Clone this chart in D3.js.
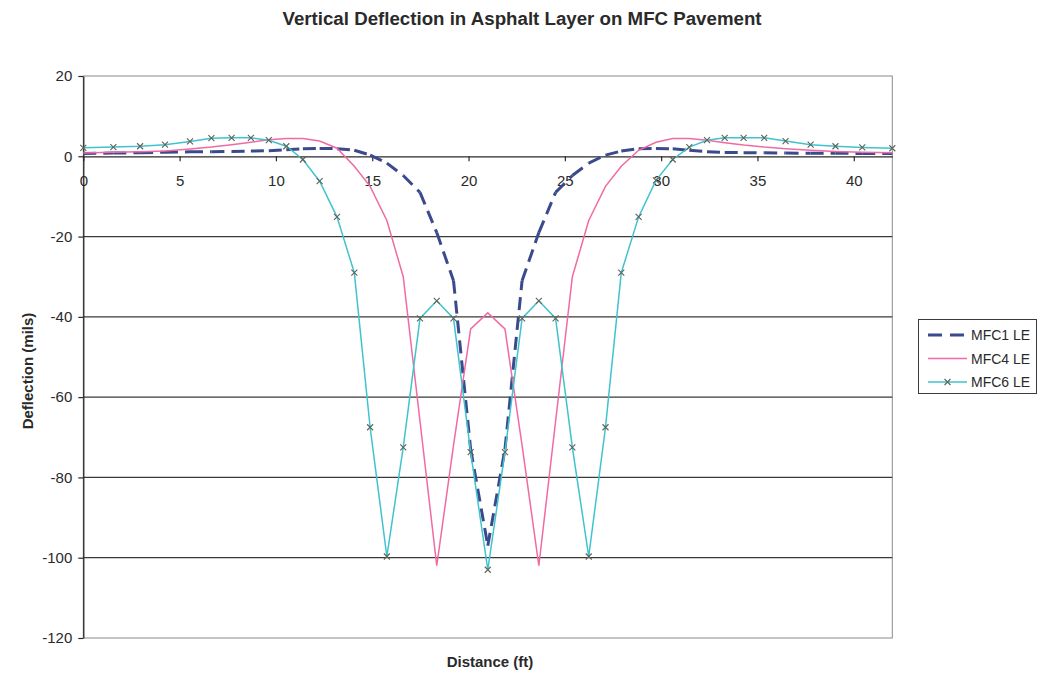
<!DOCTYPE html>
<html>
<head>
<meta charset="utf-8">
<script src="https://cdn.jsdelivr.net/npm/d3@7/dist/d3.min.js"></script>
<style>
  html, body { margin: 0; padding: 0; background: #ffffff; }
  svg { display: block; font-family: "Liberation Sans", Arial, sans-serif; }
</style>
</head>
<body>
<svg id="chart" width="1040" height="673"></svg>
<script>
// Distance along the section (ft), shared by all three series
const distance = [0, 1.56, 2.95, 4.24, 5.54, 6.65, 7.70, 8.70, 9.63, 10.54, 11.40, 12.27, 13.17, 14.07,
  14.89, 15.76, 16.61, 17.48, 18.35, 19.22, 20.11, 21.00, 21.89, 22.78, 23.65, 24.52, 25.39, 26.24,
  27.11, 27.93, 28.83, 29.73, 30.60, 31.46, 32.38, 33.30, 34.28, 35.35, 36.46, 37.76, 39.05, 40.44, 42.00];

// Vertical deflection (mils)
const mfc1 = [0.7, 0.8, 0.9, 1.0, 1.1, 1.15, 1.2, 1.3, 1.4, 1.65, 1.85, 1.95, 1.9, 1.5,
  0.3, -1.7, -4.8, -9.0, -19, -31, -73, -97, -73, -31, -19, -9.0, -4.8, -1.7,
  0.3, 1.3, 1.9, 1.95, 1.85, 1.5, 1.15, 0.95, 0.9, 0.85, 0.8, 0.75, 0.75, 0.7, 0.7];
const mfc4 = [0.8, 1.0, 1.15, 1.3, 1.8, 2.3, 2.9, 3.5, 4.1, 4.4, 4.4, 3.8, 2.0, -2.5,
  -7.5, -16, -30, -66, -102, -72, -43, -39, -43, -72, -102, -66, -30, -16,
  -7.5, -2.5, 1.5, 3.5, 4.4, 4.4, 4.0, 3.4, 2.8, 2.3, 1.9, 1.5, 1.2, 1.0, 0.9];
const mfc6 = [2.1, 2.3, 2.5, 2.9, 3.7, 4.5, 4.6, 4.6, 4.0, 2.5, -0.8, -6.2, -15.1, -29,
  -67.5, -99.7, -72.5, -40.4, -36, -40.4, -73.7, -103, -73.7, -40.4, -36, -40.4, -72.5, -99.7,
  -67.5, -29, -15.1, -6.0, -0.8, 2.3, 4.0, 4.6, 4.6, 4.6, 3.8, 2.9, 2.5, 2.2, 2.0];

const seriesNames = ["MFC1 LE", "MFC4 LE", "MFC6 LE"];
const xTicks = [0, 5, 10, 15, 20, 25, 30, 35, 40];
const yTicks = [-120, -100, -80, -60, -40, -20, 0, 20];

const svg = d3.select("#chart");
const plot = { left: 83.3, right: 892.3, top: 76, bottom: 638 };

const x = d3.scaleLinear().domain([0, 42]).range([plot.left, plot.right]);
const y = d3.scaleLinear().domain([-120, 20]).range([plot.bottom, plot.top]);

// Plain hyphen-minus for negative tick values
const plainNumber = d => String(d);

// Title
svg.append("text")
  .attr("x", 522).attr("y", 25)
  .attr("text-anchor", "middle")
  .attr("font-size", 18.7).attr("font-weight", "bold").attr("fill", "#2a2a2a")
  .text("Vertical Deflection in Asphalt Layer on MFC Pavement");

// Plot area border
svg.append("rect")
  .attr("x", plot.left).attr("y", plot.top)
  .attr("width", plot.right - plot.left).attr("height", plot.bottom - plot.top)
  .attr("fill", "none").attr("stroke", "#8a8a8a").attr("stroke-width", 1);

// Horizontal gridlines
svg.append("g").selectAll("line")
  .data(yTicks.filter(v => v > -120 && v < 20 && v !== 0))
  .join("line")
  .attr("x1", plot.left).attr("x2", plot.right)
  .attr("y1", d => y(d)).attr("y2", d => y(d))
  .attr("stroke", "#3a3a36").attr("stroke-width", 1.3);

// Y axis
const yAxis = svg.append("g")
  .attr("transform", `translate(${plot.left},0)`)
  .call(d3.axisLeft(y).tickValues(yTicks).tickFormat(plainNumber)
    .tickSize(5).tickSizeOuter(0).tickPadding(6));
yAxis.select(".domain").attr("stroke", "#2a2a2a").attr("stroke-width", 1.3);
yAxis.selectAll(".tick line").attr("stroke", "#2a2a2a").attr("stroke-width", 1.2);
yAxis.selectAll(".tick text").attr("font-size", 15).attr("fill", "#2a2a2a")
  .attr("font-family", "Liberation Sans, Arial, sans-serif");

// X axis, crossing at zero deflection
const xAxis = svg.append("g")
  .attr("transform", `translate(0,${y(0)})`)
  .call(d3.axisBottom(x).tickValues(xTicks).tickFormat(plainNumber)
    .tickSize(5).tickSizeOuter(0).tickPadding(14));
xAxis.select(".domain").attr("stroke", "#2a2a2a").attr("stroke-width", 1.3);
xAxis.selectAll(".tick line").attr("stroke", "#2a2a2a").attr("stroke-width", 1.2);
xAxis.selectAll(".tick text").attr("font-size", 15).attr("fill", "#2a2a2a")
  .attr("font-family", "Liberation Sans, Arial, sans-serif");

// Axis titles
svg.append("text")
  .attr("x", 490).attr("y", 667)
  .attr("text-anchor", "middle")
  .attr("font-size", 15).attr("font-weight", "bold").attr("fill", "#2a2a2a")
  .text("Distance (ft)");
svg.append("text")
  .attr("transform", `translate(33,${(plot.top + plot.bottom) / 2 + 14}) rotate(-90)`)
  .attr("text-anchor", "middle")
  .attr("font-size", 15).attr("font-weight", "bold").attr("fill", "#2a2a2a")
  .text("Deflection (mils)");

const line = d3.line().x(d => x(d[0])).y(d => y(d[1]));
const pts = vals => distance.map((d, i) => [d, vals[i]]);

const colors = { mfc1: "#3a4a8c", mfc4: "#f06aa3", mfc6: "#3fc3cf" };
const markerPath = "M-3,-3L3,3M-3,3L3,-3";
const dash = "13,7";

// MFC1: dashed, the dash pattern restarts at every segment
svg.append("g").selectAll("path")
  .data(d3.pairs(pts(mfc1)))
  .join("path")
  .attr("d", d => line(d))
  .attr("fill", "none")
  .attr("stroke", colors.mfc1).attr("stroke-width", 3)
  .attr("stroke-dasharray", dash);

// MFC4
svg.append("path")
  .attr("d", line(pts(mfc4)))
  .attr("fill", "none").attr("stroke", colors.mfc4).attr("stroke-width", 1.5)
  .attr("stroke-linejoin", "miter");

// MFC6 with x markers
svg.append("path")
  .attr("d", line(pts(mfc6)))
  .attr("fill", "none").attr("stroke", colors.mfc6).attr("stroke-width", 1.5)
  .attr("stroke-linejoin", "miter");
svg.append("g").selectAll("path")
  .data(pts(mfc6))
  .join("path")
  .attr("transform", d => `translate(${x(d[0])},${y(d[1])})`)
  .attr("d", markerPath)
  .attr("stroke", "#5f6358").attr("stroke-width", 1.1).attr("fill", "none");

// Legend
const legend = svg.append("g");
legend.append("rect")
  .attr("x", 918.5).attr("y", 319.5).attr("width", 118).attr("height", 74)
  .attr("fill", "#ffffff").attr("stroke", "#3a3a3a").attr("stroke-width", 1);
const rows = [335, 358.5, 382];
seriesNames.forEach((name, i) => {
  const ly = rows[i];
  const ln = legend.append("line")
    .attr("x1", 928).attr("x2", 967).attr("y1", ly).attr("y2", ly);
  if (i === 0) {
    ln.attr("stroke", colors.mfc1).attr("stroke-width", 3).attr("stroke-dasharray", "14,8");
  } else if (i === 1) {
    ln.attr("stroke", colors.mfc4).attr("stroke-width", 1.5);
  } else {
    ln.attr("stroke", colors.mfc6).attr("stroke-width", 1.5);
    legend.append("path")
      .attr("transform", `translate(947.5,${ly})`)
      .attr("d", markerPath)
      .attr("stroke", "#5f6358").attr("stroke-width", 1.1).attr("fill", "none");
  }
  legend.append("text")
    .attr("x", 971).attr("y", ly + 5)
    .attr("font-size", 14).attr("fill", "#2a2a2a")
    .text(name);
});
</script>
</body>
</html>
